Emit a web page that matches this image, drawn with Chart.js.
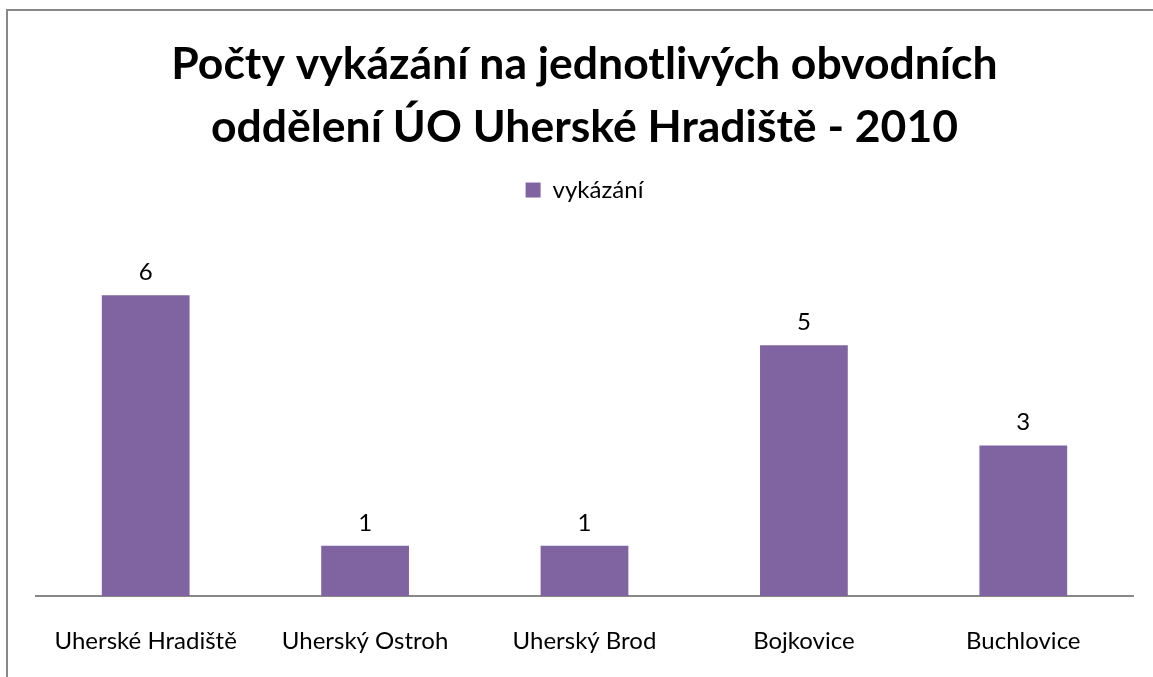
<!DOCTYPE html>
<html>
<head>
<meta charset="utf-8">
<script src="https://cdn.jsdelivr.net/npm/chart.js@4.4.1/dist/chart.umd.min.js"></script>
<style>
    html, body { margin: 0; padding: 0; background: #fff; overflow: hidden; }
    #wrap { position: relative; width: 1153px; height: 677px; }
    #frame {
        position: absolute; left: 6px; top: 9px; width: 1200px; height: 720px;
        border: 2px solid #888; pointer-events: none;
    }
    canvas { position: absolute; left: 0; top: 0; }
</style>
</head>
<body>
<div id="wrap">
    <canvas id="chart" width="1153" height="677"></canvas>
    <div id="frame"></div>
</div>
<script>
// Chart data
const titleLines = ['Počty vykázání na jednotlivých obvodních', 'oddělení ÚO Uherské Hradiště - 2010'];
const categories = ['Uherské Hradiště', 'Uherský Ostroh', 'Uherský Brod', 'Bojkovice', 'Buchlovice'];
const seriesName = 'vykázání';
const counts = [6, 1, 1, 5, 3];
const yMax = 7;

const fontFamily = 'Lato, "Open Sans", sans-serif';

// extra space under the legend
const legendSpacer = {
    id: 'legendSpacer',
    beforeInit(chart) {
        const origFit = chart.legend.fit;
        chart.legend.fit = function () {
            origFit.bind(chart.legend)();
            this.height += 33;
        };
    }
};

// value labels above bars
const barLabels = {
    id: 'barLabels',
    afterDatasetsDraw(chart) {
        const ctx = chart.ctx;
        ctx.save();
        ctx.font = '24px ' + fontFamily;
        ctx.fillStyle = '#000';
        ctx.textAlign = 'center';
        ctx.textBaseline = 'middle';
        chart.getDatasetMeta(0).data.forEach((bar, i) => {
            ctx.fillText(String(counts[i]), bar.x, bar.y - 23);
        });
        ctx.restore();
    }
};

new Chart(document.getElementById('chart'), {
    type: 'bar',
    data: {
        labels: categories,
        datasets: [{
            label: seriesName,
            data: counts,
            backgroundColor: '#8064A2',
            borderWidth: 0,
            barPercentage: 0.4,
            categoryPercentage: 1
        }]
    },
    options: {
        responsive: false,
        animation: false,
        layout: {
            padding: { left: 36, right: 20, top: 0, bottom: 24 }
        },
        plugins: {
            title: {
                display: true,
                text: titleLines,
                color: '#000',
                font: { family: fontFamily, size: 44.5, weight: 'bold', lineHeight: 1.416 },
                padding: { top: 33, bottom: 9 }
            },
            legend: {
                display: true,
                labels: {
                    color: '#000',
                    boxWidth: 15,
                    boxHeight: 15,
                    font: { family: fontFamily, size: 24 }
                }
            },
            tooltip: { enabled: false }
        },
        scales: {
            x: {
                grid: { display: false, drawTicks: false },
                border: { display: true, color: '#888', width: 2 },
                ticks: {
                    color: '#000',
                    padding: 31,
                    maxRotation: 0,
                    font: { family: fontFamily, size: 24 }
                },
                afterFit: function (scale) {
                    scale.height = 57;
                }
            },
            y: {
                display: false,
                min: 0,
                max: yMax
            }
        }
    },
    plugins: [legendSpacer, barLabels]
});
</script>
</body>
</html>
